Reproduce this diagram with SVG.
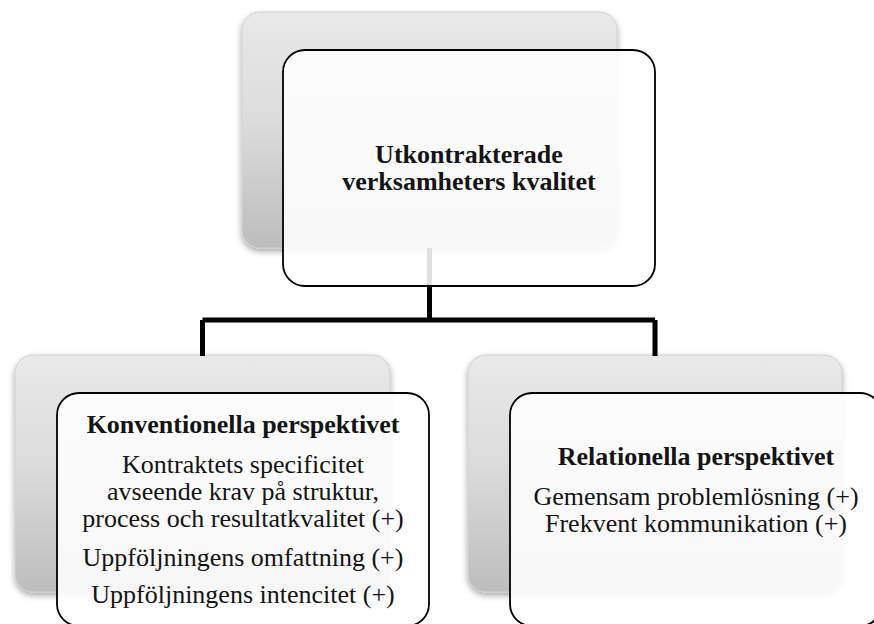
<svg xmlns="http://www.w3.org/2000/svg" width="874" height="624" viewBox="0 0 874 624">
  <defs>
    <linearGradient id="backGrad" x1="0" y1="0" x2="0" y2="1">
      <stop offset="0" stop-color="#e9e9e9"/>
      <stop offset="0.45" stop-color="#dcdcdc"/>
      <stop offset="1" stop-color="#bdbdbd"/>
    </linearGradient>
    <filter id="shadow" x="-10%" y="-10%" width="120%" height="125%">
      <feDropShadow dx="0" dy="3" stdDeviation="3" flood-color="#000" flood-opacity="0.35"/>
    </filter>
    <style>
      .back { fill: url(#backGrad); stroke: #cfcfcf; stroke-width: 1; filter: url(#shadow); }
      .front { fill: #ffffff; fill-opacity: 0.88; stroke: #000; stroke-width: 1.8; }
      .conn { fill: none; stroke: #000; stroke-width: 5; }
      text { font-family: "Liberation Serif", "Times New Roman", serif; font-size: 26px; fill: #141414; text-anchor: middle; }
      .b { font-weight: bold; }
    </style>
  </defs>
  <rect width="874" height="624" fill="#ffffff"/>

  <g id="back-boxes">
    <rect class="back" x="242" y="12" width="375" height="236" rx="18"/>
    <rect class="back" x="15" y="355" width="375" height="237" rx="18"/>
    <rect class="back" x="468" y="355" width="374" height="237" rx="18"/>
  </g>

  <g id="connectors">
    <path class="conn" d="M429.5,248 V320 M202.5,320 H655 M202.5,320 V356 M655,320 V356"/>
  </g>

  <g id="node-top">
    <rect class="front" x="283" y="50" width="372" height="236" rx="22"/>
    <text class="b" x="469" y="163">Utkontrakterade</text>
    <text class="b" x="469" y="190">verksamheters kvalitet</text>
  </g>

  <g id="node-left">
    <rect class="front" x="57" y="393" width="372" height="233" rx="22"/>
    <text class="b" x="243" y="433">Konventionella perspektivet</text>
    <text x="243" y="473">Kontraktets specificitet</text>
    <text x="243" y="500">avseende krav på struktur,</text>
    <text x="243" y="527">process och resultatkvalitet (+)</text>
    <text x="243" y="566">Uppföljningens omfattning (+)</text>
    <text x="243" y="603">Uppföljningens intencitet (+)</text>
  </g>

  <g id="node-right">
    <rect class="front" x="510" y="393" width="372" height="233" rx="22"/>
    <text class="b" x="696" y="465">Relationella perspektivet</text>
    <text x="696" y="505">Gemensam problemlösning (+)</text>
    <text x="696" y="532">Frekvent kommunikation (+)</text>
  </g>
</svg>
